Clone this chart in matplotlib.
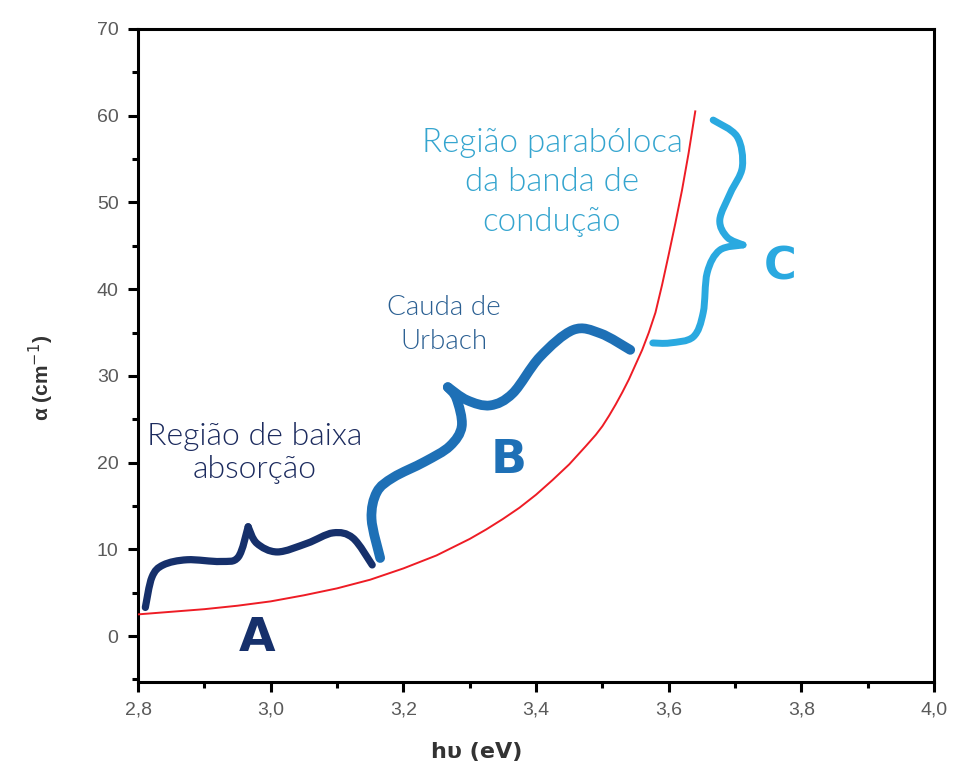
import numpy as np
import matplotlib
matplotlib.use("Agg")
import matplotlib.pyplot as plt
from matplotlib.path import Path
from matplotlib.patches import PathPatch
from matplotlib.ticker import MultipleLocator, FuncFormatter

# curva de absorcao
hv = [2.80, 2.85, 2.90, 2.95, 3.00, 3.05, 3.10, 3.15, 3.20, 3.25, 3.30, 3.325,
      3.35, 3.375, 3.40, 3.425, 3.45, 3.475, 3.49, 3.50, 3.51, 3.52, 3.53, 3.54, 3.55,
      3.56, 3.57, 3.58, 3.59, 3.60, 3.61, 3.62, 3.63, 3.64]
alpha = [2.5, 2.8, 3.1, 3.5, 4.0, 4.7, 5.5, 6.5, 7.8, 9.3, 11.2, 12.3,
         13.5, 14.8, 16.3, 18.0, 19.8, 21.9, 23.2, 24.2, 25.4, 26.7, 28.1, 29.6, 31.3,
         33.0, 35.0, 37.3, 40.5, 44.0, 47.6, 51.4, 55.7, 60.5]

# chaves (cada uma em duas metades que se encontram na ponta)
braceA_1 = [(2.811, 3.3), (2.821, 6.8), (2.838, 8.2), (2.874, 8.8), (2.924, 8.6),
            (2.951, 9.1), (2.966, 12.6)]
braceA_2 = [(2.966, 12.6), (2.979, 10.7), (3.010, 9.7), (3.055, 10.7), (3.094, 11.9),
            (3.124, 11.3), (3.153, 8.2)]
braceB_1 = [(3.165, 9.0), (3.152, 13.5), (3.160, 16.6), (3.185, 18.3), (3.232, 20.1),
            (3.270, 21.9), (3.288, 24.2), (3.280, 27.4), (3.267, 28.7)]
braceB_2 = [(3.267, 28.7), (3.296, 27.2), (3.331, 26.6), (3.365, 28.0), (3.406, 32.2),
            (3.456, 35.3), (3.497, 34.9), (3.542, 33.0)]
braceC_1 = [(3.667, 59.5), (3.703, 57.6), (3.711, 54.1), (3.693, 51.1), (3.677, 48.0),
            (3.688, 46.0), (3.712, 45.1)]
braceC_2 = [(3.712, 45.1), (3.677, 44.5), (3.658, 41.9), (3.652, 37.3), (3.637, 34.5),
            (3.602, 33.8), (3.576, 33.8)]

xticks = [2.8, 3.0, 3.2, 3.4, 3.6, 3.8, 4.0]
yticks = [0, 10, 20, 30, 40, 50, 60, 70]

NAVY = '#16306b'
MID = '#1e70b6'
LIGHT = '#2aa9e0'


def smooth(pts):
    # catmull-rom -> bezier cubica, so para desenhar a chave
    p = np.array(pts, dtype=float)
    p = np.vstack([p[0], p, p[-1]])
    verts = [tuple(p[1])]
    codes = [Path.MOVETO]
    for i in range(1, len(p) - 2):
        c1 = p[i] + (p[i + 1] - p[i - 1]) / 6
        c2 = p[i + 1] - (p[i + 2] - p[i]) / 6
        verts += [tuple(c1), tuple(c2), tuple(p[i + 1])]
        codes += [Path.CURVE4] * 3
    return Path(verts, codes)


fig = plt.figure(figsize=(9.54, 7.69), dpi=100)
ax = fig.add_axes([0.1447, 0.1131, 0.8344, 0.8492])

ax.plot(hv, alpha, color='#ee1c25', lw=1.4, zorder=3)

for halves, col, lw in [((braceA_1, braceA_2), NAVY, 5.2),
                        ((braceB_1, braceB_2), MID, 7.0),
                        ((braceC_1, braceC_2), LIGHT, 5.0)]:
    for h in halves:
        ax.add_patch(PathPatch(smooth(h), fill=False, edgecolor=col, lw=lw,
                               capstyle='round', joinstyle='round', zorder=2))

ax.set_xlim(2.8, 4.0)
ax.set_ylim(-5.3, 70)
ax.set_xticks(xticks)
ax.set_yticks(yticks)
ax.xaxis.set_minor_locator(MultipleLocator(0.1))
ax.yaxis.set_minor_locator(MultipleLocator(5))
ax.xaxis.set_major_formatter(FuncFormatter(lambda v, p: f'{v:.1f}'.replace('.', ',')))

for s in ax.spines.values():
    s.set_linewidth(2.2)
ax.tick_params(which='major', direction='out', length=7, width=2.2,
               labelsize=14, labelcolor='#5a5a5a', pad=7)
ax.tick_params(which='minor', direction='out', length=4.5, width=2.2)
for lab in ax.get_xticklabels() + ax.get_yticklabels():
    lab.set_family('Liberation Sans')

ax.set_xlabel('h\u03c5 (eV)', fontsize=16, fontweight='bold', color='#333333',
              family='DejaVu Sans', va='center')
ax.xaxis.set_label_coords(0.426, -0.107)
ax.set_ylabel('\u03b1 (cm$^{-1}$)', fontsize=15, fontweight='bold', color='#333333',
              family='Liberation Sans', va='center')
ax.yaxis.set_label_coords(-0.121, 0.466)

tf = 'Lato'
ax.text(2.976, 21.1, 'Região de baixa\nabsorção', ha='center', va='center',
        fontsize=23, color='#1c2b5e', family=tf, fontweight=300, linespacing=1.15)
ax.text(3.261, 35.9, 'Cauda de\nUrbach', ha='center', va='center',
        fontsize=20, color='#2a5f92', family=tf, fontweight=300, linespacing=1.45)
ax.text(3.424, 52.3, 'Região parabóloca\nda banda de\ncondução', ha='center', va='center',
        fontsize=23.8, color='#35a5cf', family=tf, fontweight=300, linespacing=1.38)

ax.text(2.980, -0.3, 'A', ha='center', va='center', fontsize=34,
        fontweight='bold', color=NAVY, family='DejaVu Sans')
ax.text(3.358, 20.3, 'B', ha='center', va='center', fontsize=34,
        fontweight='bold', color=MID, family='DejaVu Sans')
ax.text(3.768, 42.5, 'C', ha='center', va='center', fontsize=32,
        fontweight='bold', color=LIGHT, family='DejaVu Sans')

fig.savefig('out.png', dpi=100)
